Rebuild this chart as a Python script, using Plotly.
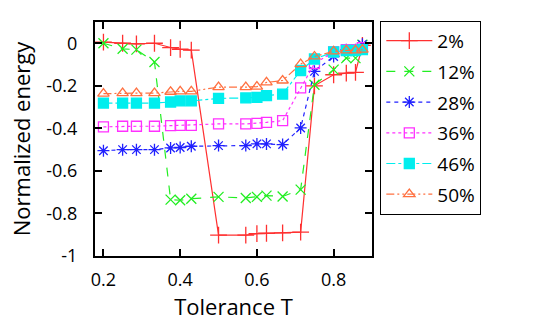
import plotly.graph_objects as go

# tolerance values (x)
tol = [0.2, 0.25, 0.286, 0.333, 0.375, 0.4, 0.429, 0.5, 0.571, 0.6, 0.625,
       0.667, 0.714, 0.75, 0.8, 0.833, 0.857, 0.875]

e_2 = [0.005, 0.0, -0.003, 0.0, -0.02, -0.028, -0.032, -0.902, -0.902, -0.895,
       -0.893, -0.891, -0.888, -0.2, -0.148, -0.14, -0.137, -0.01]
e_12 = [0.0, -0.026, -0.03, -0.088, -0.735, -0.738, -0.731, -0.722, -0.727,
        -0.722, -0.716, -0.72, -0.688, -0.195, -0.124, -0.07, -0.07, -0.007]
e_28 = [-0.505, -0.5, -0.5, -0.5, -0.492, -0.49, -0.484, -0.481, -0.481,
        -0.473, -0.473, -0.476, -0.398, -0.132, -0.062, -0.03, -0.03, -0.005]
e_36 = [-0.393, -0.39, -0.39, -0.39, -0.387, -0.386, -0.386, -0.379, -0.379,
        -0.377, -0.372, -0.364, -0.21, -0.095, -0.04, -0.03, -0.03, -0.02]
e_46 = [-0.281, -0.281, -0.281, -0.281, -0.276, -0.271, -0.271, -0.259, -0.257,
        -0.254, -0.246, -0.239, -0.128, -0.074, -0.041, -0.034, -0.034, -0.03]
e_50 = [-0.237, -0.234, -0.234, -0.234, -0.228, -0.226, -0.226, -0.206, -0.206,
        -0.204, -0.184, -0.175, -0.098, -0.062, -0.038, -0.033, -0.033, -0.03]

series = [
    ("2%", e_2, "#ff3030", "solid", "cross-thin", 12),
    ("12%", e_12, "#22ee22", "dash", "x-thin", 10),
    ("28%", e_28, "#2020ff", "4px,4px", "asterisk", 10),
    ("36%", e_36, "#ff30ff", "dot", "square-open", 10),
    ("46%", e_46, "#00eeee", "dashdot", "square", 10),
    ("50%", e_50, "#ff7040", "8px,3px,2px,3px,2px,3px", "triangle-up-open", 10),
]

xticks = [0.2, 0.4, 0.6, 0.8]
xtick_text = ["0.2", "0.4", "0.6", "0.8"]
yticks = [0, -0.2, -0.4, -0.6, -0.8, -1]
ytick_text = ["0", "-0.2", "-0.4", "-0.6", "-0.8", "-1"]

fig = go.Figure()
for i, (name, ys, col, dash, sym, sz) in enumerate(series):
    fig.add_trace(go.Scatter(
        x=tol, y=ys, name=name, mode="lines+markers", legendgroup=str(i),
        line=dict(color=col, width=1.2, dash=dash),
        marker=dict(symbol=sym, size=sz, color=col,
                    line=dict(color=col, width=1.3)),
    ))

axis_common = dict(showline=True, linecolor="black", linewidth=2, mirror="ticks",
                   ticks="inside", ticklen=7, tickwidth=2, tickcolor="black",
                   showgrid=False, zeroline=False, automargin=False)

fig.update_xaxes(range=[0.178, 0.9], tickvals=xticks, ticktext=xtick_text,
                 ticklabelstandoff=6,
                 title=dict(text="Tolerance T", standoff=4), **axis_common)
fig.update_yaxes(range=[-1, 0.1], tickvals=yticks, ticktext=ytick_text,
                 ticklabelstandoff=12,
                 title=dict(text="Normalized energy", standoff=10), **axis_common)

fig.update_layout(
    width=545, height=336,
    margin=dict(l=95, r=173, t=22, b=80),
    paper_bgcolor="white", plot_bgcolor="white",
    font=dict(family="Open Sans", size=18, color="black"),
    legend=dict(x=1.03, y=1.005, xanchor="left", yanchor="top",
                bordercolor="black", borderwidth=1, bgcolor="white",
                tracegroupgap=3, itemwidth=46, entrywidth=105, maxheight=300,
                font=dict(size=19)),
)

# page body has a default 8px margin; drop it so the figure sits at 0,0
fig.write_html("out.html", config={"displayModeBar": False},
               post_script="document.body.style.margin='0';")
